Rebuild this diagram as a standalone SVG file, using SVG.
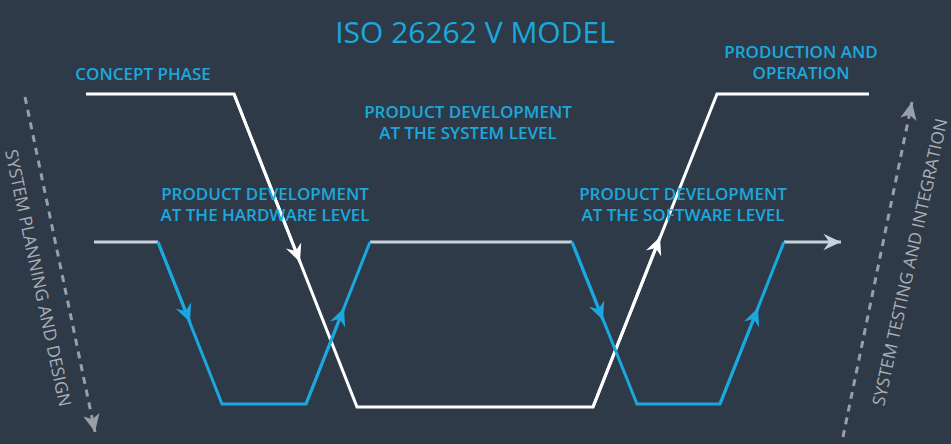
<svg xmlns="http://www.w3.org/2000/svg" width="951" height="444" viewBox="0 0 951 444">
<style>
.bg{fill:#2e3a47}
.lbl{font-family:"Open Sans","Liberation Sans",sans-serif;font-weight:600;font-size:17px;fill:#1ba8de;text-anchor:middle}
.title{font-family:"Open Sans","Liberation Sans",sans-serif;font-weight:500;font-size:30px;fill:#1ba8de;text-anchor:middle}
.side{font-family:"Open Sans","Liberation Sans",sans-serif;font-weight:400;font-size:17.3px;fill:#a9aeb6;text-anchor:middle}
.w{fill:none;stroke:#ffffff;stroke-width:3;stroke-linejoin:miter}
.b{fill:none;stroke:#1ba8de;stroke-width:3;stroke-linejoin:miter}
.g{fill:none;stroke:#c9d1dc;stroke-width:3}
.d{fill:none;stroke:#9a9fa7;stroke-width:3;stroke-dasharray:7 6}
</style>
<defs>
<marker id="aw" markerUnits="userSpaceOnUse" markerWidth="20" markerHeight="20" viewBox="-16 -8 17 16" refX="0" refY="0" orient="auto"><path d="M0,0 L-15,-7 L-10,0 L-15,7 Z" fill="#ffffff"/></marker>
<marker id="ab" markerUnits="userSpaceOnUse" markerWidth="20" markerHeight="20" viewBox="-16 -8 17 16" refX="0" refY="0" orient="auto"><path d="M0,0 L-15,-7 L-10,0 L-15,7 Z" fill="#1ba8de"/></marker>
<marker id="ag" markerUnits="userSpaceOnUse" markerWidth="20" markerHeight="20" viewBox="-16 -8 17 16" refX="0" refY="0" orient="auto"><path d="M0,0 L-15,-7 L-10,0 L-15,7 Z" fill="#c9d1dc"/></marker>
<marker id="ad" markerUnits="userSpaceOnUse" markerWidth="20" markerHeight="20" viewBox="-16 -8 17 16" refX="0" refY="0" orient="auto"><path d="M0,0 L-15,-7 L-11,0 L-15,7 Z" fill="#9a9fa7"/></marker>
</defs>
<rect class="bg" x="0" y="0" width="951" height="444"/>
<g id="connectors">
<path class="w" d="M86,94 L234,94 L357,407 L593,407 L717,94 L869,94"/>
<line class="w" x1="234" y1="94" x2="300" y2="262" marker-end="url(#aw)"/>
<line class="w" x1="593" y1="407" x2="660" y2="237" marker-end="url(#aw)"/>
<path class="g" d="M94,242 L158,242"/>
<path class="g" d="M370,242 L572,242"/>
<path class="g" d="M784,242 L841,242" marker-end="url(#ag)"/>
<path class="b" d="M158,242 L222,404 L306,404 L370,242"/>
<path class="b" d="M572,242 L637,404 L720,404 L784,242"/>
<line class="b" x1="158" y1="242" x2="190" y2="322" marker-end="url(#ab)"/>
<line class="b" x1="306" y1="404" x2="344" y2="308" marker-end="url(#ab)"/>
<line class="b" x1="572" y1="242" x2="603" y2="320" marker-end="url(#ab)"/>
<line class="b" x1="720" y1="404" x2="758" y2="308" marker-end="url(#ab)"/>
<line class="d" x1="25" y1="97" x2="95" y2="432" marker-end="url(#ad)"/>
<line class="d" x1="843" y1="437" x2="912" y2="102" marker-end="url(#ad)"/>
</g>
<g id="title"><text class="title" x="475" y="43">ISO 26262 V MODEL</text></g>
<g id="concept"><text class="lbl" x="143" y="80">CONCEPT PHASE</text></g>
<g id="system"><text class="lbl" x="468" y="118">PRODUCT DEVELOPMENT</text><text class="lbl" x="468" y="139">AT THE SYSTEM LEVEL</text></g>
<g id="hardware"><text class="lbl" x="265" y="200">PRODUCT DEVELOPMENT</text><text class="lbl" x="265" y="221">AT THE HARDWARE LEVEL</text></g>
<g id="software"><text class="lbl" x="683" y="200">PRODUCT DEVELOPMENT</text><text class="lbl" x="683" y="221">AT THE SOFTWARE LEVEL</text></g>
<g id="production"><text class="lbl" x="801" y="58">PRODUCTION AND</text><text class="lbl" x="801" y="79">OPERATION</text></g>
<g id="planning"><text class="side" transform="translate(38,278) rotate(78)" x="0" y="6">SYSTEM PLANNING AND DESIGN</text></g>
<g id="testing"><text class="side" transform="translate(910,262) rotate(-77.5)" x="0" y="6">SYSTEM TESTING AND INTEGRATION</text></g>
</svg>
